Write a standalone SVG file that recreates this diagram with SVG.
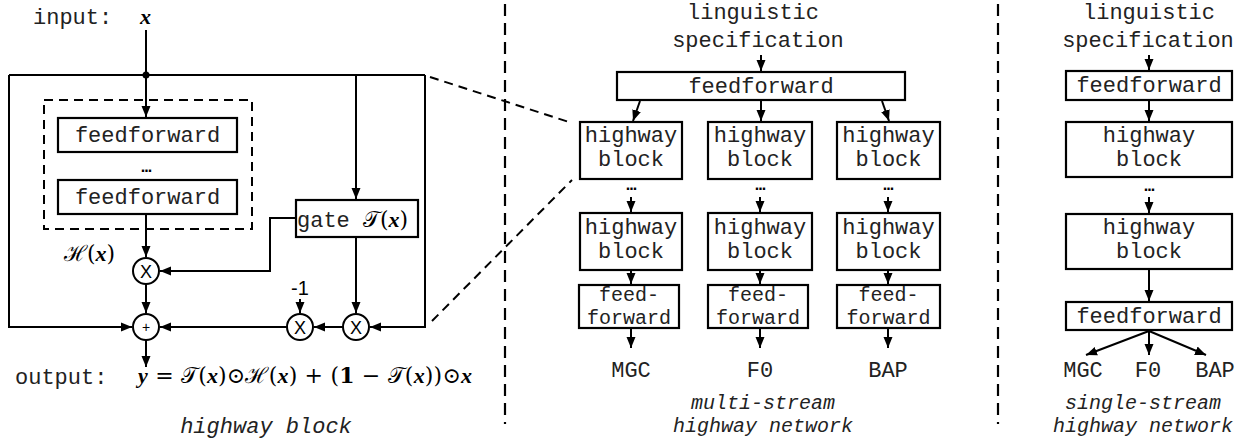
<svg xmlns="http://www.w3.org/2000/svg" width="1259" height="441" viewBox="0 0 1259 441">
<style>
.ln{fill:none;stroke:#000;stroke-width:2}
.arr{fill:none;stroke:#000;stroke-width:2;marker-end:url(#ah)}
.box{fill:#fff;stroke:#000;stroke-width:2.2}
.dash{fill:none;stroke:#000;stroke-width:2;stroke-dasharray:9 6}
.div{fill:none;stroke:#000;stroke-width:2.2;stroke-dasharray:12 7}
.mono{font-family:"Liberation Mono","Courier New",monospace;font-size:22px;fill:#222}
.sm{font-size:20px}
.it{font-style:italic}
.mid{text-anchor:middle}
.sans{font-family:"Liberation Sans","DejaVu Sans",sans-serif;fill:#000}
.math{font-family:"DejaVu Serif","Liberation Serif",serif;font-size:22px;fill:#000}
.bi{font-weight:bold;font-style:italic;font-family:"Liberation Serif","DejaVu Serif",serif}
.dots{font-family:"Liberation Sans",sans-serif;font-size:16px;font-weight:bold;text-anchor:middle;letter-spacing:-1px}
.circ{fill:#fff;stroke:#000;stroke-width:2}
</style>
<defs>
<marker id="ah" markerUnits="userSpaceOnUse" markerWidth="12" markerHeight="10" refX="11" refY="5" orient="auto">
<path d="M0,0.5 L11,5 L0,9.5 z" fill="#000"/>
</marker>
</defs>

<!-- dividers -->
<g id="dividers">
<line class="div" x1="505" y1="4" x2="505" y2="424"/>
<line class="div" x1="998" y1="4" x2="998" y2="424"/>
<line class="dash" x1="430" y1="77" x2="572" y2="123"/>
<line class="dash" x1="432" y1="321" x2="572" y2="180"/>
</g>

<!-- ===== LEFT: highway block ===== -->
<g id="connectors-left">
<line class="ln" x1="146" y1="30" x2="146" y2="75"/>
<path class="ln" d="M9,75 H425"/>
<path class="arr" d="M9,75 V327 H132"/>
<path class="arr" d="M425,75 V327 H370"/>
<line class="arr" x1="146" y1="75" x2="146" y2="117"/>
<line class="arr" x1="356" y1="75" x2="356" y2="199"/>
<line class="arr" x1="146" y1="214" x2="146" y2="257"/>
<path class="arr" d="M296,218 H270 V271 H160"/>
<line class="arr" x1="146" y1="284" x2="146" y2="313"/>
<line class="arr" x1="146" y1="340" x2="146" y2="367"/>
<line class="arr" x1="356" y1="237" x2="356" y2="313"/>
<line class="arr" x1="343" y1="327" x2="314" y2="327"/>
<line class="arr" x1="287" y1="327" x2="160" y2="327"/>
<line class="arr" x1="300" y1="299" x2="300" y2="313"/>
<circle cx="146" cy="75" r="3.5" fill="#000"/>
</g>

<g id="input">
<text class="mono" x="33" y="24">input:</text>
<text class="math" x="140" y="24"><tspan class="bi">x</tspan></text>
</g>

<g id="inner-box">
<rect class="dash" x="44" y="100" width="208" height="129"/>
</g>
<g id="ff1">
<rect class="box" x="58" y="118" width="179" height="34"/>
<text class="mono mid" x="147.5" y="142">feedforward</text>
</g>
<text class="dots" x="146" y="172">...</text>
<g id="ff2">
<rect class="box" x="58" y="180" width="179" height="34"/>
<text class="mono mid" x="147.5" y="204">feedforward</text>
</g>
<g id="Hlabel">
<text class="math" x="64" y="261">ℋ(<tspan class="bi">x</tspan>)</text>
</g>
<g id="gate">
<rect class="box" x="296" y="200" width="122" height="37"/>
<text class="mono" x="297" y="227">gate <tspan class="math">𝒯(<tspan class="bi">x</tspan>)</tspan></text>
</g>
<g id="mul1">
<circle class="circ" cx="146" cy="271" r="13"/>
<text class="sans mid" x="146" y="278" font-size="18">X</text>
</g>
<g id="plus">
<circle class="circ" cx="146" cy="327" r="13"/>
<text class="sans mid" x="146" y="332" font-size="14">+</text>
</g>
<g id="mul2">
<circle class="circ" cx="300" cy="327" r="13"/>
<text class="sans mid" x="300" y="334" font-size="18">X</text>
</g>
<g id="mul3">
<circle class="circ" cx="356" cy="327" r="13"/>
<text class="sans mid" x="356" y="334" font-size="18">X</text>
</g>
<text class="sans mid" x="300" y="295" font-size="20">-1</text>
<g id="output">
<text class="mono" x="15" y="384">output:</text>
<text class="math" x="138" y="383" textLength="334" lengthAdjust="spacing"><tspan class="bi">y</tspan> = 𝒯(<tspan class="bi">x</tspan>)⊙ℋ(<tspan class="bi">x</tspan>) + (<tspan font-weight="bold">1</tspan> − 𝒯(<tspan class="bi">x</tspan>))⊙<tspan class="bi">x</tspan></text>
</g>
<text class="mono it mid" x="266" y="433">highway block</text>

<!-- ===== MIDDLE: multi-stream ===== -->
<g id="connectors-mid">
<line class="arr" x1="761" y1="55" x2="761" y2="71"/>
<line class="arr" x1="640" y1="101" x2="633" y2="121"/>
<line class="arr" x1="761" y1="101" x2="761" y2="121"/>
<line class="arr" x1="882" y1="101" x2="889" y2="121"/>
<line class="arr" x1="631" y1="197" x2="631" y2="212"/>
<line class="arr" x1="760" y1="197" x2="760" y2="212"/>
<line class="arr" x1="888" y1="197" x2="888" y2="212"/>
<line class="arr" x1="631" y1="270" x2="631" y2="284"/>
<line class="arr" x1="760" y1="270" x2="760" y2="284"/>
<line class="arr" x1="888" y1="270" x2="888" y2="284"/>
<line class="arr" x1="631" y1="328" x2="631" y2="348"/>
<line class="arr" x1="760" y1="328" x2="760" y2="348"/>
<line class="arr" x1="888" y1="328" x2="888" y2="348"/>
</g>
<text class="mono mid" x="753" y="19">linguistic</text>
<text class="mono mid" x="758" y="47">specification</text>
<g id="m-ff">
<rect class="box" x="617" y="72" width="288" height="28"/>
<text class="mono mid" x="761" y="93">feedforward</text>
</g>
<g id="m-hb1a">
<rect class="box" x="580" y="122" width="102" height="57"/>
<text class="mono mid" x="631" y="142">highway</text>
<text class="mono mid" x="631" y="166">block</text>
</g>
<g id="m-hb1b">
<rect class="box" x="708" y="122" width="104" height="57"/>
<text class="mono mid" x="760" y="142">highway</text>
<text class="mono mid" x="760" y="166">block</text>
</g>
<g id="m-hb1c">
<rect class="box" x="837" y="122" width="103" height="57"/>
<text class="mono mid" x="888.5" y="142">highway</text>
<text class="mono mid" x="888.5" y="166">block</text>
</g>
<text class="dots" x="631" y="190">...</text>
<text class="dots" x="760" y="190">...</text>
<text class="dots" x="888" y="190">...</text>
<g id="m-hb2a">
<rect class="box" x="580" y="213" width="102" height="57"/>
<text class="mono mid" x="631" y="234">highway</text>
<text class="mono mid" x="631" y="258">block</text>
</g>
<g id="m-hb2b">
<rect class="box" x="708" y="213" width="104" height="57"/>
<text class="mono mid" x="760" y="234">highway</text>
<text class="mono mid" x="760" y="258">block</text>
</g>
<g id="m-hb2c">
<rect class="box" x="837" y="213" width="103" height="57"/>
<text class="mono mid" x="888.5" y="234">highway</text>
<text class="mono mid" x="888.5" y="258">block</text>
</g>
<g id="m-ffa">
<rect class="box" x="579" y="285" width="100" height="43"/>
<text class="mono sm mid" x="629" y="301">feed-</text>
<text class="mono sm mid" x="629" y="324">forward</text>
</g>
<g id="m-ffb">
<rect class="box" x="708" y="285" width="100" height="43"/>
<text class="mono sm mid" x="758" y="301">feed-</text>
<text class="mono sm mid" x="758" y="324">forward</text>
</g>
<g id="m-ffc">
<rect class="box" x="837" y="285" width="103" height="43"/>
<text class="mono sm mid" x="888.5" y="301">feed-</text>
<text class="mono sm mid" x="888.5" y="324">forward</text>
</g>
<text class="mono mid" x="631" y="377">MGC</text>
<text class="mono mid" x="760" y="377">F0</text>
<text class="mono mid" x="888" y="377">BAP</text>
<text class="mono sm it mid" x="763" y="409">multi-stream</text>
<text class="mono sm it mid" x="763" y="432">highway network</text>

<!-- ===== RIGHT: single-stream ===== -->
<g id="connectors-right">
<line class="arr" x1="1149" y1="55" x2="1149" y2="70"/>
<line class="arr" x1="1149" y1="100" x2="1149" y2="121"/>
<line class="arr" x1="1149" y1="197" x2="1149" y2="213"/>
<line class="arr" x1="1149" y1="269" x2="1149" y2="301"/>
<line class="arr" x1="1149" y1="331" x2="1086" y2="355"/>
<line class="arr" x1="1149" y1="331" x2="1149" y2="355"/>
<line class="arr" x1="1149" y1="331" x2="1206" y2="355"/>
</g>
<text class="mono mid" x="1149" y="19">linguistic</text>
<text class="mono mid" x="1148" y="47">specification</text>
<g id="s-ff1">
<rect class="box" x="1066" y="71" width="166" height="29"/>
<text class="mono mid" x="1149" y="92">feedforward</text>
</g>
<g id="s-hb1">
<rect class="box" x="1066" y="122" width="166" height="55"/>
<text class="mono mid" x="1149" y="142">highway</text>
<text class="mono mid" x="1149" y="166">block</text>
</g>
<text class="dots" x="1149" y="191">...</text>
<g id="s-hb2">
<rect class="box" x="1066" y="214" width="166" height="55"/>
<text class="mono mid" x="1149" y="234">highway</text>
<text class="mono mid" x="1149" y="258">block</text>
</g>
<g id="s-ff2">
<rect class="box" x="1066" y="302" width="166" height="28"/>
<text class="mono mid" x="1149" y="323">feedforward</text>
</g>
<text class="mono mid" x="1083" y="377">MGC</text>
<text class="mono mid" x="1148" y="377">F0</text>
<text class="mono mid" x="1215" y="377">BAP</text>
<text class="mono sm it mid" x="1143" y="409">single-stream</text>
<text class="mono sm it mid" x="1143" y="432">highway network</text>
</svg>
